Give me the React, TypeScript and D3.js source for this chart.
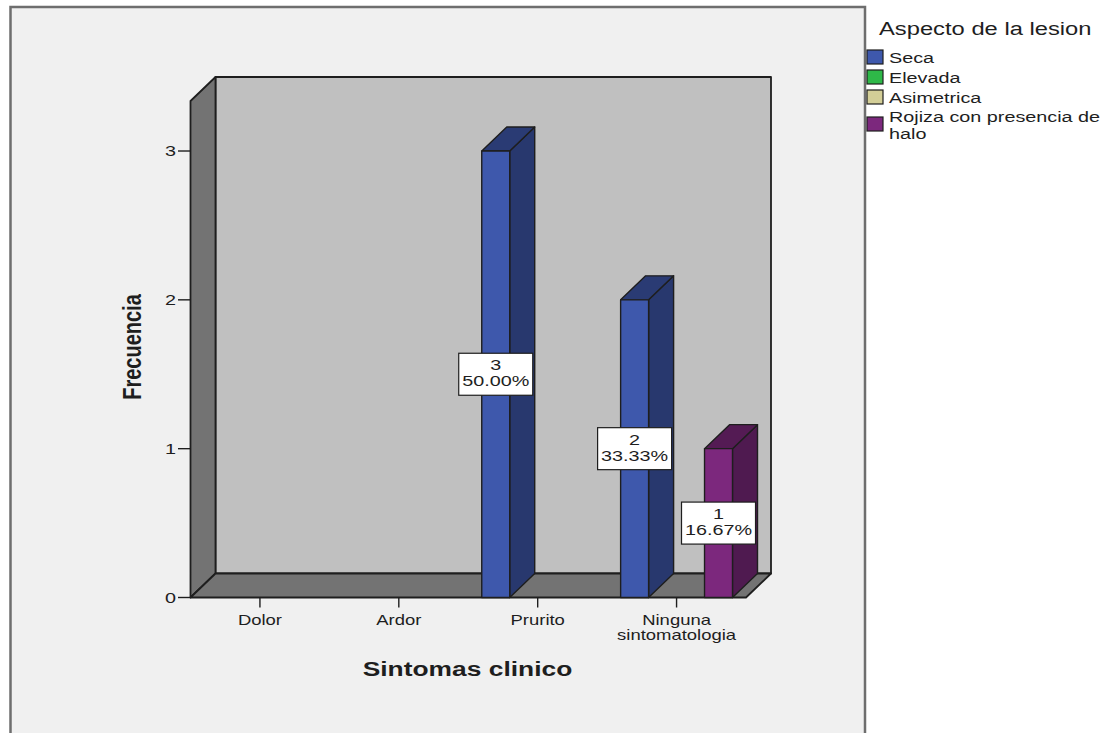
import React from "react";
import * as d3 from "d3";

// Clinical symptoms by lesion appearance (counts)
const categories = ["Dolor", "Ardor", "Prurito", "Ninguna sintomatologia"];
const categoryLines = [["Dolor"], ["Ardor"], ["Prurito"], ["Ninguna", "sintomatologia"]];
const seriesNames = ["Seca", "Elevada", "Asimetrica", "Rojiza con presencia de halo"];
const legendLines = [["Seca"], ["Elevada"], ["Asimetrica"], ["Rojiza con presencia de", "halo"]];
const seca = [0, 0, 3, 2];
const elevada = [0, 0, 0, 0];
const asimetrica = [0, 0, 0, 0];
const rojiza = [0, 0, 0, 1];
const seriesValues = [seca, elevada, asimetrica, rojiza];
const seriesColors = ["#3e58ac", "#2eb848", "#d3ce97", "#7c287d"];
const yTicks = [0, 1, 2, 3];

const W = 1111;
const H = 733;
const SX = 1.32; // horizontal glyph stretch
const FONT = "'Liberation Sans', Arial, sans-serif";
const INK = "#1e1e1e";

// 3D geometry of the plot box
const front = { left: 190.5, right: 746, bottom: 597.5 };
const depthX = 25;
const depthY = 24;
const yMax = 3.336;

function SText(props: {
  x: number;
  y: number;
  size: number;
  anchor?: string;
  weight?: string | number;
  rotate?: number;
  children: React.ReactNode;
}) {
  const { x, y, size, anchor = "start", weight = "normal", rotate = 0, children } = props;
  return (
    <g transform={`translate(${x},${y}) scale(${SX},1) rotate(${rotate})`}>
      <text
        x={0}
        y={0}
        fontFamily={FONT}
        fontSize={size}
        fontWeight={weight}
        textAnchor={anchor}
        fill={INK}
      >
        {children}
      </text>
    </g>
  );
}

export default function App() {
  const y = d3.scaleLinear().domain([0, yMax]).range([front.bottom, 101]);
  const xBand = d3
    .scaleBand<string>()
    .domain(categories)
    .range([front.left, front.right])
    .paddingInner(0)
    .paddingOuter(0);
  const inner = d3
    .scaleBand<string>()
    .domain(seriesNames)
    .range([13.5, xBand.bandwidth() - 13.5]);

  const total = d3.sum(seriesValues.flat());
  const yTop = y(yMax);

  const backWall = {
    x0: front.left + depthX,
    x1: front.right + depthX,
    y0: yTop - depthY,
    y1: front.bottom - depthY,
  };

  const pts = (p: number[][]) => p.map((q) => q.join(",")).join(" ");

  const bars: React.ReactNode[] = [];
  const labels: React.ReactNode[] = [];
  categories.forEach((cat, ci) => {
    seriesNames.forEach((s, si) => {
      const v = seriesValues[si][ci];
      if (!v) return;
      const x = (xBand(cat) as number) + (inner(s) as number);
      const w = inner.bandwidth();
      const yv = y(v);
      const y0 = y(0);
      const base = d3.color(seriesColors[si]) as d3.RGBColor;
      const sideCol = base.darker(1.25).formatHex();
      const topCol = base.darker(1.1).formatHex();
      bars.push(
        <g key={`${ci}-${si}`} stroke={INK} strokeWidth={1.4} strokeLinejoin="round">
          <polygon
            points={pts([
              [x + w, yv],
              [x + w + depthX, yv - depthY],
              [x + w + depthX, y0 - depthY],
              [x + w, y0],
            ])}
            fill={sideCol}
          />
          <polygon
            points={pts([
              [x, yv],
              [x + depthX, yv - depthY],
              [x + w + depthX, yv - depthY],
              [x + w, yv],
            ])}
            fill={topCol}
          />
          <rect x={x} y={yv} width={w} height={y0 - yv} fill={seriesColors[si]} />
        </g>
      );
      const cx = x + w / 2;
      const cy = (yv + y0) / 2;
      const pct = ((v / total) * 100).toFixed(2) + "%";
      labels.push(
        <g key={`l-${ci}-${si}`}>
          <rect x={cx - 37} y={cy - 21} width={74} height={42} fill="#ffffff" stroke={INK} strokeWidth={1.2} />
          <SText x={cx} y={cy - 4} size={15} anchor="middle">
            {String(v)}
          </SText>
          <SText x={cx} y={cy + 12} size={15} anchor="middle">
            {pct}
          </SText>
        </g>
      );
    });
  });

  const legendY = [50, 70, 90, 117];
  const legendTextY = [[63], [83], [103], [122, 139]];

  return (
    <svg
      width={W}
      height={H}
      style={{ position: "absolute", left: 0, top: 0, background: "#ffffff" }}
    >
      {/* chart frame */}
      <rect x={10.5} y={7} width={854.5} height={H + 20} fill="#f0f0f0" stroke="#6e6e6e" strokeWidth={2.5} />

      {/* back wall, side wall, floor */}
      <g stroke={INK} strokeWidth={1.8} strokeLinejoin="round">
        <rect
          x={backWall.x0}
          y={backWall.y0}
          width={backWall.x1 - backWall.x0}
          height={backWall.y1 - backWall.y0}
          fill="#c0c0c0"
        />
        <polygon
          points={pts([
            [front.left, yTop],
            [backWall.x0, backWall.y0],
            [backWall.x0, backWall.y1],
            [front.left, front.bottom],
          ])}
          fill="#737373"
        />
        <polygon
          points={pts([
            [front.left, front.bottom],
            [backWall.x0, backWall.y1],
            [backWall.x1, backWall.y1],
            [front.right, front.bottom],
          ])}
          fill="#737373"
        />
      </g>

      {bars}
      {labels}

      {/* y axis ticks */}
      {yTicks.map((t) => (
        <g key={`yt-${t}`}>
          <line x1={178} x2={front.left} y1={y(t)} y2={y(t)} stroke={INK} strokeWidth={1.4} />
          <SText x={176} y={y(t) + 5} size={15} anchor="end">
            {String(t)}
          </SText>
        </g>
      ))}

      {/* x axis ticks and labels */}
      {categories.map((c, i) => {
        const cx = (xBand(c) as number) + xBand.bandwidth() / 2;
        return (
          <g key={`xt-${c}`}>
            <line x1={cx} x2={cx} y1={front.bottom} y2={front.bottom + 10} stroke={INK} strokeWidth={1.4} />
            {categoryLines[i].map((ln, k) => (
              <SText key={ln} x={cx} y={625 + k * 14.5} size={14} anchor="middle">
                {ln}
              </SText>
            ))}
          </g>
        );
      })}

      {/* axis titles */}
      <SText x={467.5} y={676} size={20} anchor="middle" weight="bold">
        Sintomas clinico
      </SText>
      <SText x={141} y={347} size={20} anchor="middle" weight="bold" rotate={-90}>
        Frecuencia
      </SText>

      {/* legend */}
      <SText x={879} y={35} size={18}>
        Aspecto de la lesion
      </SText>
      {seriesNames.map((s, i) => (
        <g key={`lg-${s}`}>
          <rect x={867} y={legendY[i]} width={16} height={14} fill={seriesColors[i]} stroke={INK} strokeWidth={1.2} />
          {legendLines[i].map((ln, k) => (
            <SText key={ln} x={889} y={legendTextY[i][k]} size={15}>
              {ln}
            </SText>
          ))}
        </g>
      ))}
    </svg>
  );
}
